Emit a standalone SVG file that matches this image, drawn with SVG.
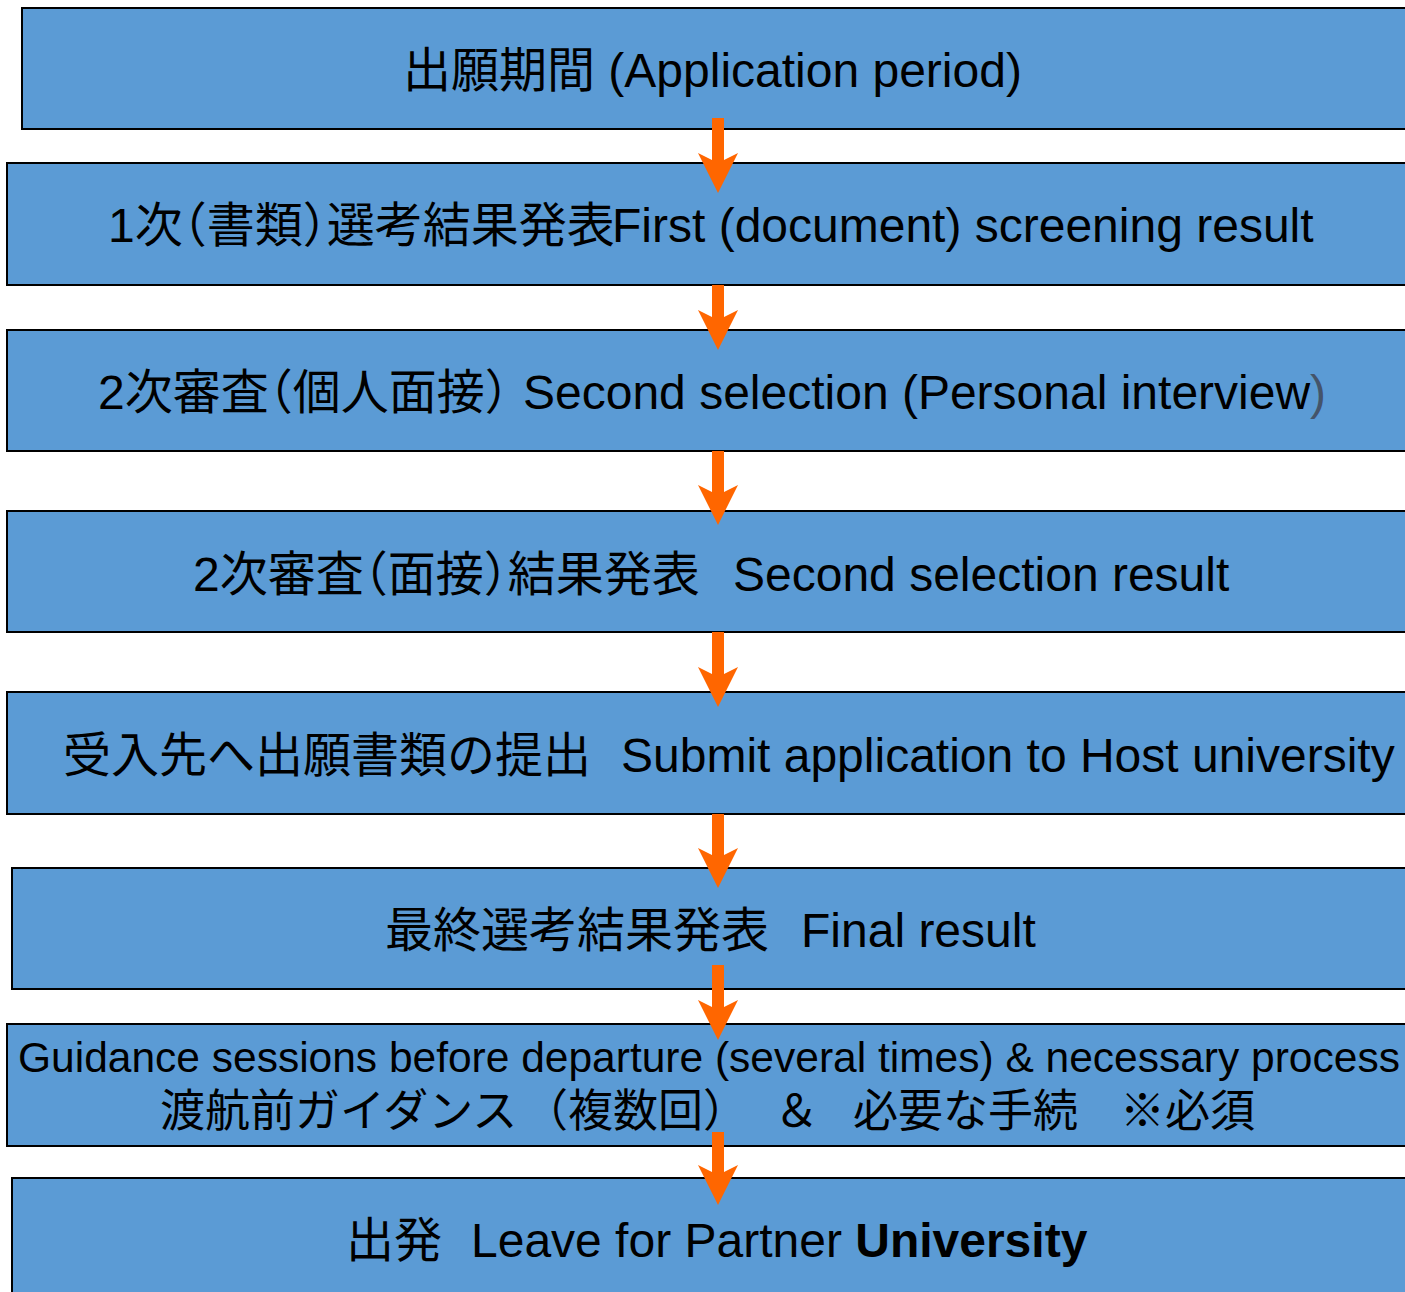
<svg xmlns="http://www.w3.org/2000/svg" width="1405" height="1292" viewBox="0 0 1405 1292">
<style>
.box{fill:#5B9BD5;stroke:#000;stroke-width:2}
.t{font-family:"Liberation Sans","Noto Sans CJK JP",sans-serif;font-size:48px;fill:#000}
.s{font-size:42.5px}
.j{font-size:45px}
.h{font-feature-settings:"halt"}
.arr{fill:#FF6600}
.g{fill:#44546A}
</style>
<rect width="1405" height="1292" fill="#fff"/>
<g id="n1"><rect class="box" x="22" y="8" width="1400" height="121"/>
<text class="t" x="403" y="87">出願期間 (Application period)</text></g>
<g id="n2"><rect class="box" x="7" y="163" width="1415" height="122"/>
<text class="t" y="242"><tspan x="108">1次</tspan><tspan class="h">（</tspan><tspan>書類</tspan><tspan class="h">）</tspan><tspan>選考結果発表</tspan><tspan x="612">First (document) screening result</tspan></text></g>
<g id="n3"><rect class="box" x="7" y="330" width="1415" height="121"/>
<text class="t" y="409"><tspan x="98">2次審査</tspan><tspan class="h">（</tspan><tspan>個人面接</tspan><tspan class="h">）</tspan><tspan x="523">Second selection (Personal interview</tspan><tspan class="g">)</tspan></text></g>
<g id="n4"><rect class="box" x="7" y="511" width="1415" height="121"/>
<text class="t" y="591"><tspan x="193">2次審査</tspan><tspan class="h">（</tspan><tspan>面接</tspan><tspan class="h">）</tspan><tspan>結果発表</tspan><tspan x="733">Second selection result</tspan></text></g>
<g id="n5"><rect class="box" x="7" y="692" width="1415" height="122"/>
<text class="t" y="772"><tspan x="63">受入先へ出願書類の提出</tspan><tspan x="621">Submit application to Host university</tspan></text></g>
<g id="n6"><rect class="box" x="12" y="868" width="1410" height="121"/>
<text class="t" y="947"><tspan x="385">最終選考結果発表</tspan><tspan x="801">Final result</tspan></text></g>
<g id="n7"><rect class="box" x="7" y="1024" width="1415" height="122"/>
<text class="t s" x="18" y="1072">Guidance sessions before departure (several times) &amp; necessary process</text>
<text class="t j" y="1127"><tspan x="160">渡航前ガイダンス</tspan><tspan x="523">（複数回）</tspan><tspan x="774">＆</tspan><tspan x="853">必要な手続</tspan><tspan x="1120">※必須</tspan></text></g>
<g id="n8"><rect class="box" x="12" y="1178" width="1410" height="130"/>
<text class="t" y="1257"><tspan x="346">出発</tspan><tspan x="471">Leave for Partner </tspan><tspan font-weight="bold">University</tspan></text></g>
<g id="connectors">
<polygon class="arr" points="712,118 724,118 724,160 738,153 718,193 698,153 712,160"/>
<polygon class="arr" points="712,285 724,285 724,317 738,310 718,350 698,310 712,317"/>
<polygon class="arr" points="712,451 724,451 724,492 738,485 718,525 698,485 712,492"/>
<polygon class="arr" points="712,632 724,632 724,674 738,667 718,707 698,667 712,674"/>
<polygon class="arr" points="712,814 724,814 724,855 738,848 718,888 698,848 712,855"/>
<polygon class="arr" points="712,965 724,965 724,1007 738,1000 718,1040 698,1000 712,1007"/>
<polygon class="arr" points="712,1132 724,1132 724,1172 738,1165 718,1205 698,1165 712,1172"/>
</g>
</svg>
